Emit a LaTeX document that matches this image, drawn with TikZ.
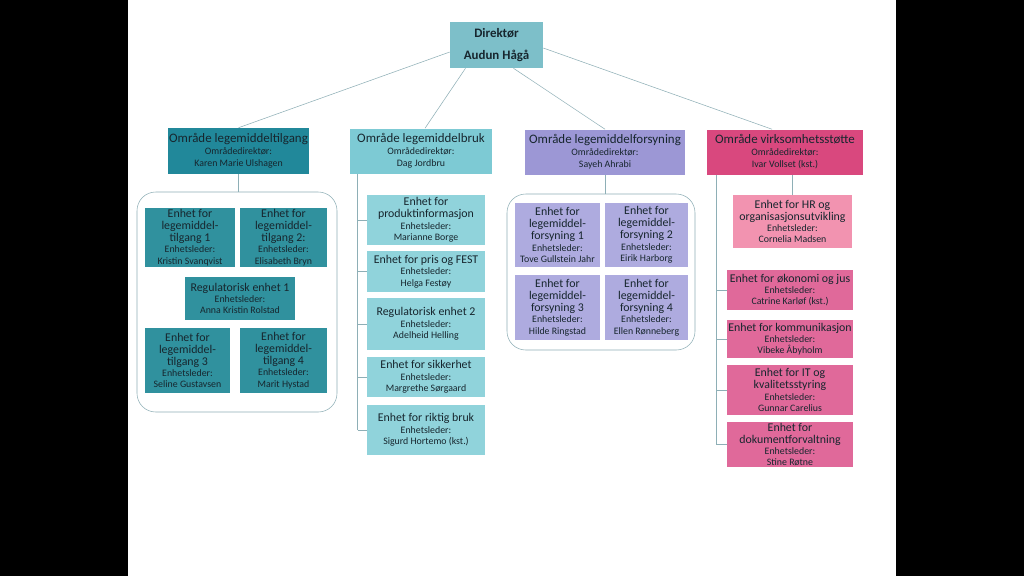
\documentclass[tikz,border=0pt]{standalone}
\usepackage{fontspec}
\setmainfont{Carlito}
\usepackage{tikz}
\usetikzlibrary{positioning,calc}

\definecolor{txt}{HTML}{17262E}
\definecolor{dirfill}{HTML}{7DBFC9}
\definecolor{tilfill}{HTML}{21889A}
\definecolor{tilunit}{HTML}{30919E}
\definecolor{brukfill}{HTML}{7DCAD4}
\definecolor{brukunit}{HTML}{90D3DB}
\definecolor{forsfill}{HTML}{9C97D5}
\definecolor{forsunit}{HTML}{AEABDF}
\definecolor{virkfill}{HTML}{D9487E}
\definecolor{virkunit}{HTML}{E0699A}
\definecolor{hrfill}{HTML}{F293B0}
\definecolor{linkcol}{HTML}{8EAFB6}

\newcommand{\ttl}{\fontsize{8.9}{10}\selectfont}
\newcommand{\areafont}{\fontsize{9.7}{11}\selectfont}
\newcommand{\sml}[1]{{\fontsize{7.4}{8.5}\selectfont #1}}

\tikzset{
  box/.style={rectangle, inner sep=0pt, align=center, text=txt, font=\ttl},
  areabox/.style={box, font=\areafont},
  link/.style={draw=linkcol, thin},
  frame/.style={draw=linkcol, rounded corners=14pt, thin}
}

\begin{document}
\begin{tikzpicture}[x=0.75pt,y=-0.75pt]

% page
\fill[black] (0,0) rectangle (1024,576);
\fill[white] (128,0) rectangle (896,576);
\useasboundingbox (0,0) rectangle (1024,576);

% director
\node[box, fill=dirfill, minimum width=93*0.75pt, minimum height=46*0.75pt, font=\areafont\bfseries]
  (dir) at (496.5,45) {Direktør\\[5pt]Audun Hågå};

% areas
\node[areabox, fill=tilfill, minimum width=141*0.75pt, minimum height=46*0.75pt]
  (a1) at (238.5,151) {Område legemiddeltilgang\\[-2pt]\sml{Områdedirektør:}\\[-2pt]\sml{Karen Marie Ulshagen}};
\node[areabox, fill=brukfill, minimum width=142*0.75pt, minimum height=45*0.75pt]
  (a2) at (421,151) {Område legemiddelbruk\\[-2pt]\sml{Områdedirektør:}\\[-2pt]\sml{Dag Jordbru}};
\node[areabox, fill=forsfill, minimum width=160*0.75pt, minimum height=45*0.75pt]
  (a3) at (605,152) {Område legemiddelforsyning\\[-2pt]\sml{Områdedirektør:}\\[-2pt]\sml{Sayeh Ahrabi}};
\node[areabox, fill=virkfill, minimum width=156*0.75pt, minimum height=45*0.75pt]
  (a4) at (785,152) {Område virksomhetsstøtte\\[-2pt]\sml{Områdedirektør:}\\[-2pt]\sml{Ivar Vollset (kst.)}};

\draw[link] ($(dir.west)+(0,7)$) -- (a1.north);
\draw[link] ($(dir.south)+(-31,0)$) -- ($(a2.north)+(4,0)$);
\draw[link] ($(dir.south)+(17,0)$) -- (a3.north);
\draw[link] ($(dir.east)+(0,3)$) -- ($(a4.north)+(-13,0)$);

% legemiddeltilgang
\node[frame, minimum width=200*0.75pt, minimum height=220*0.75pt] (c1) at (237,302) {};
\draw[link] (a1.south) -- (a1.south |- c1.north);

\node[box, fill=tilunit, minimum width=90*0.75pt, minimum height=59*0.75pt]
  (t1) at (190,237.5) {Enhet for\\[-1pt]legemiddel-\\[-1pt]tilgang 1\\[-1.5pt]\sml{Enhetsleder:}\\[-1.5pt]\sml{Kristin Svanqvist}};
\node[box, fill=tilunit, minimum width=87*0.75pt, minimum height=59*0.75pt]
  (t2) at (283.5,237.5) {Enhet for\\[-1pt]legemiddel-\\[-1pt]tilgang 2:\\[-1.5pt]\sml{Enhetsleder:}\\[-1.5pt]\sml{Elisabeth Bryn}};
\node[box, fill=tilunit, minimum width=110*0.75pt, minimum height=43*0.75pt]
  (r1) at (240,298.5) {Regulatorisk enhet 1\\[-1.5pt]\sml{Enhetsleder:}\\[-1.5pt]\sml{Anna Kristin Rolstad}};
\node[box, fill=tilunit, minimum width=85*0.75pt, minimum height=65*0.75pt]
  (t3) at (187.5,360.5) {Enhet for\\[-1pt]legemiddel-\\[-1pt]tilgang 3\\[-1.5pt]\sml{Enhetsleder:}\\[-1.5pt]\sml{Seline Gustavsen}};
\node[box, fill=tilunit, minimum width=87*0.75pt, minimum height=65*0.75pt]
  (t4) at (283.5,360.5) {Enhet for\\[-1pt]legemiddel-\\[-1pt]tilgang 4\\[-1.5pt]\sml{Enhetsleder:}\\[-1.5pt]\sml{Marit Hystad}};

% legemiddelbruk
\coordinate (s2) at ($(a2.south west)+(8,0)$);
\node[box, fill=brukunit, minimum width=118*0.75pt, minimum height=50*0.75pt]
  (b1) at (426,220) {Enhet for\\[-1pt]produktinformasjon\\[-1.5pt]\sml{Enhetsleder:}\\[-1.5pt]\sml{Marianne Borge}};
\node[box, fill=brukunit, minimum width=118*0.75pt, minimum height=41*0.75pt]
  (b2) at (426,271.5) {Enhet for pris og FEST\\[-1.5pt]\sml{Enhetsleder:}\\[-1.5pt]\sml{Helga Festøy}};
\node[box, fill=brukunit, minimum width=118*0.75pt, minimum height=52*0.75pt]
  (b3) at (426,324) {Regulatorisk enhet 2\\[-1.5pt]\sml{Enhetsleder:}\\[-1.5pt]\sml{Adelheid Helling}};
\node[box, fill=brukunit, minimum width=118*0.75pt, minimum height=40*0.75pt]
  (b4) at (426,377) {Enhet for sikkerhet\\[-1.5pt]\sml{Enhetsleder:}\\[-1.5pt]\sml{Margrethe Sørgaard}};
\node[box, fill=brukunit, minimum width=118*0.75pt, minimum height=50*0.75pt]
  (b5) at (426,430) {Enhet for riktig bruk\\[-1.5pt]\sml{Enhetsleder:}\\[-1.5pt]\sml{Sigurd Hortemo (kst.)}};
\draw[link] (s2) -- (b5.west -| s2);
\foreach \b in {b1,b2,b3,b4,b5}{
  \draw[link] (\b.west -| s2) -- (\b.west);
}

% legemiddelforsyning
\node[frame, minimum width=188*0.75pt, minimum height=156*0.75pt] (c3) at (601,272) {};
\draw[link] (a3.south) -- (a3.south |- c3.north);

\node[box, fill=forsunit, minimum width=85*0.75pt, minimum height=64*0.75pt]
  (f1) at (557.5,235) {Enhet for\\[-1pt]legemiddel-\\[-1pt]forsyning 1\\[-1.5pt]\sml{Enhetsleder:}\\[-1.5pt]\sml{Tove Gullstein Jahr}};
\node[box, fill=forsunit, minimum width=83*0.75pt, minimum height=64*0.75pt]
  (f2) at (646.5,235) {Enhet for\\[-1pt]legemiddel-\\[-1pt]forsyning 2\\[-1.5pt]\sml{Enhetsleder:}\\[-1.5pt]\sml{Eirik Harborg}};
\node[box, fill=forsunit, minimum width=85*0.75pt, minimum height=65*0.75pt]
  (f3) at (557.5,307.5) {Enhet for\\[-1pt]legemiddel-\\[-1pt]forsyning 3\\[-1.5pt]\sml{Enhetsleder:}\\[-1.5pt]\sml{Hilde Ringstad}};
\node[box, fill=forsunit, minimum width=83*0.75pt, minimum height=65*0.75pt]
  (f4) at (646.5,307.5) {Enhet for\\[-1pt]legemiddel-\\[-1pt]forsyning 4\\[-1.5pt]\sml{Enhetsleder:}\\[-1.5pt]\sml{Ellen Rønneberg}};

% virksomhetsstotte
\coordinate (s4) at ($(a4.south west)+(10,0)$);
\node[box, fill=hrfill, minimum width=119*0.75pt, minimum height=53*0.75pt]
  (hr) at (792.5,221.5) {Enhet for HR og\\[-1pt]organisasjonsutvikling\\[-1.5pt]\sml{Enhetsleder:}\\[-1.5pt]\sml{Cornelia Madsen}};
\draw[link] (hr.north |- a4.south) -- (hr.north);
\node[box, fill=virkunit, minimum width=126*0.75pt, minimum height=40*0.75pt]
  (v1) at (790,290) {Enhet for økonomi og jus\\[-1.5pt]\sml{Enhetsleder:}\\[-1.5pt]\sml{Catrine Karløf (kst.)}};
\node[box, fill=virkunit, minimum width=126*0.75pt, minimum height=38*0.75pt]
  (v2) at (790,339) {Enhet for kommunikasjon\\[-1.5pt]\sml{Enhetsleder:}\\[-1.5pt]\sml{Vibeke Åbyholm}};
\node[box, fill=virkunit, minimum width=126*0.75pt, minimum height=50*0.75pt]
  (v3) at (790,390) {Enhet for IT og\\[-1pt]kvalitetsstyring\\[-1.5pt]\sml{Enhetsleder:}\\[-1.5pt]\sml{Gunnar Carelius}};
\node[box, fill=virkunit, minimum width=126*0.75pt, minimum height=45*0.75pt]
  (v4) at (790,444.5) {Enhet for\\[-1pt]dokumentforvaltning\\[-1.5pt]\sml{Enhetsleder:}\\[-1.5pt]\sml{Stine Røtne}};
\draw[link] (s4) -- (v4.west -| s4);
\foreach \v in {v1,v2,v3,v4}{
  \draw[link] (\v.west -| s4) -- (\v.west);
}

\end{tikzpicture}
\end{document}
